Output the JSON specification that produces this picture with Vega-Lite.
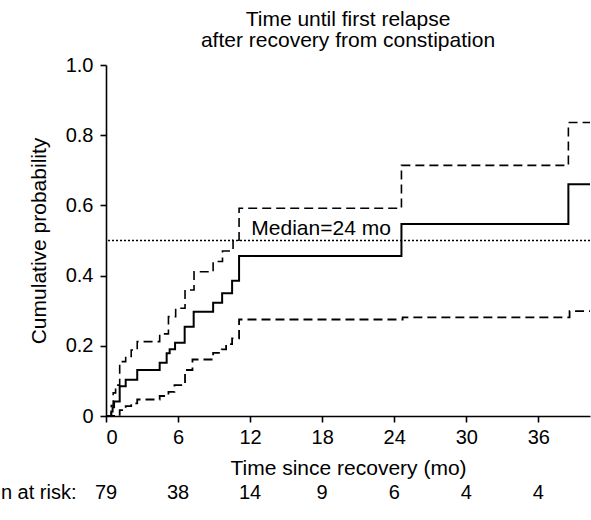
{
  "$schema": "https://vega.github.io/schema/vega-lite/v6.json",
  "width": 484,
  "height": 351,
  "autosize": {"type": "none"},
  "padding": {"left": 106, "top": 65, "right": 1, "bottom": 104},
  "title": {
    "text": ["Time until first relapse", "after recovery from constipation"],
    "font": "Liberation Sans",
    "fontSize": 21,
    "fontWeight": "normal",
    "color": "#000000",
    "lineHeight": 21,
    "anchor": "middle",
    "frame": "group",
    "offset": 4
  },
  "config": {
    "view": {"stroke": null},
    "font": "Liberation Sans",
    "axis": {
      "domainColor": "#000000",
      "domainWidth": 1.6,
      "tickColor": "#000000",
      "tickWidth": 1.6,
      "tickSize": 6,
      "grid": false,
      "labelFont": "Liberation Sans",
      "labelFontSize": 20,
      "labelColor": "#000000",
      "titleFont": "Liberation Sans",
      "titleFontSize": 21,
      "titleFontWeight": "normal",
      "titleColor": "#000000"
    }
  },
  "datasets": {
    "km": [
      {"t": 0, "p": 0, "s": "est"},
      {"t": 0.44, "p": 0.013, "s": "est"},
      {"t": 0.55, "p": 0.025, "s": "est"},
      {"t": 0.67, "p": 0.041, "s": "est"},
      {"t": 1.14, "p": 0.085, "s": "est"},
      {"t": 1.64, "p": 0.103, "s": "est"},
      {"t": 2.6, "p": 0.131, "s": "est"},
      {"t": 4.47, "p": 0.152, "s": "est"},
      {"t": 5.05, "p": 0.179, "s": "est"},
      {"t": 5.3, "p": 0.19, "s": "est"},
      {"t": 5.75, "p": 0.209, "s": "est"},
      {"t": 6.55, "p": 0.254, "s": "est"},
      {"t": 7.3, "p": 0.297, "s": "est"},
      {"t": 8.92, "p": 0.323, "s": "est"},
      {"t": 9.67, "p": 0.35, "s": "est"},
      {"t": 10.5, "p": 0.385, "s": "est"},
      {"t": 11.08, "p": 0.456, "s": "est"},
      {"t": 24.6, "p": 0.547, "s": "est"},
      {"t": 38.5, "p": 0.66, "s": "est"},
      {"t": 40.3, "p": 0.66, "s": "est"},
      {"t": 0, "p": 0, "s": "upper"},
      {"t": 0.44, "p": 0.03, "s": "upper"},
      {"t": 0.6, "p": 0.066, "s": "upper"},
      {"t": 0.8, "p": 0.088, "s": "upper"},
      {"t": 1.14, "p": 0.155, "s": "upper"},
      {"t": 1.64, "p": 0.17, "s": "upper"},
      {"t": 2.1, "p": 0.188, "s": "upper"},
      {"t": 2.6, "p": 0.212, "s": "upper"},
      {"t": 4.47, "p": 0.234, "s": "upper"},
      {"t": 5.2, "p": 0.283, "s": "upper"},
      {"t": 5.8, "p": 0.307, "s": "upper"},
      {"t": 6.58, "p": 0.359, "s": "upper"},
      {"t": 7.33, "p": 0.411, "s": "upper"},
      {"t": 8.92, "p": 0.44, "s": "upper"},
      {"t": 9.7, "p": 0.47, "s": "upper"},
      {"t": 10.58, "p": 0.501, "s": "upper"},
      {"t": 11.08, "p": 0.592, "s": "upper"},
      {"t": 24.6, "p": 0.714, "s": "upper"},
      {"t": 38.5, "p": 0.836, "s": "upper"},
      {"t": 40.3, "p": 0.836, "s": "upper"},
      {"t": 0, "p": 0, "s": "lower"},
      {"t": 1.14, "p": 0.017, "s": "lower"},
      {"t": 1.64, "p": 0.028, "s": "lower"},
      {"t": 2.1, "p": 0.036, "s": "lower"},
      {"t": 2.6, "p": 0.047, "s": "lower"},
      {"t": 4.47, "p": 0.057, "s": "lower"},
      {"t": 5.2, "p": 0.069, "s": "lower"},
      {"t": 5.7, "p": 0.088, "s": "lower"},
      {"t": 6.58, "p": 0.131, "s": "lower"},
      {"t": 7.2, "p": 0.161, "s": "lower"},
      {"t": 8.92, "p": 0.18, "s": "lower"},
      {"t": 9.64, "p": 0.19, "s": "lower"},
      {"t": 10.0, "p": 0.205, "s": "lower"},
      {"t": 10.5, "p": 0.221, "s": "lower"},
      {"t": 11.08, "p": 0.275, "s": "lower"},
      {"t": 24.7, "p": 0.281, "s": "lower"},
      {"t": 38.6, "p": 0.299, "s": "lower"},
      {"t": 40.3, "p": 0.299, "s": "lower"}
    ],
    "risk": [
      {"t": 0, "n": "79"},
      {"t": 6, "n": "38"},
      {"t": 12, "n": "14"},
      {"t": 18, "n": "9"},
      {"t": 24, "n": "6"},
      {"t": 30, "n": "4"},
      {"t": 36, "n": "4"}
    ],
    "risklabel": [{"t": -8.75, "n": "n at risk:"}],
    "median": [{"t": 12.1, "p": 0.5, "label": "Median=24 mo"}]
  },
  "layer": [
    {
      "data": {"name": "km"},
      "mark": {"type": "line", "interpolate": "step-after", "color": "#000000", "clip": false},
      "encoding": {
        "x": {
          "field": "t",
          "type": "quantitative",
          "scale": {"domain": [0, 40.3], "nice": false, "zero": false},
          "axis": {"values": [0, 6, 12, 18, 24, 30, 36], "title": "Time since recovery (mo)", "labelPadding": 5, "titlePadding": 10}
        },
        "y": {
          "field": "p",
          "type": "quantitative",
          "scale": {"domain": [0, 1], "nice": false},
          "axis": {"values": [0, 0.2, 0.4, 0.6, 0.8, 1.0], "labelExpr": "datum.value == 0 ? '0' : format(datum.value, '.1f')", "title": "Cumulative probability", "labelPadding": 7, "titlePadding": 16}
        },
        "detail": {"field": "s"},
        "strokeDash": {
          "field": "s",
          "type": "nominal",
          "scale": {"domain": ["est", "lower", "upper"], "range": [[1, 0], [9, 5], [9, 5]]},
          "legend": null
        },
        "strokeWidth": {
          "field": "s",
          "type": "nominal",
          "scale": {"domain": ["est", "lower", "upper"], "range": [2, 1.6, 1.6]},
          "legend": null
        }
      }
    },
    {
      "data": {"values": [{}]},
      "mark": {"type": "rule", "color": "#000000", "strokeDash": [2, 2], "strokeWidth": 1.4},
      "encoding": {"y": {"datum": 0.5}}
    },
    {
      "data": {"name": "median"},
      "mark": {"type": "text", "align": "left", "baseline": "alphabetic", "dy": -6, "fontSize": 21, "font": "Liberation Sans", "color": "#000000"},
      "encoding": {
        "x": {"field": "t", "type": "quantitative"},
        "y": {"field": "p", "type": "quantitative"},
        "text": {"field": "label"}
      }
    },
    {
      "data": {"name": "risk"},
      "mark": {"type": "text", "align": "center", "baseline": "middle", "fontSize": 20, "font": "Liberation Sans", "color": "#000000"},
      "encoding": {
        "x": {"field": "t", "type": "quantitative"},
        "y": {"datum": -0.22},
        "text": {"field": "n"}
      }
    },
    {
      "data": {"name": "risklabel"},
      "mark": {"type": "text", "align": "left", "baseline": "middle", "fontSize": 20, "font": "Liberation Sans", "color": "#000000"},
      "encoding": {
        "x": {"field": "t", "type": "quantitative"},
        "y": {"datum": -0.22},
        "text": {"field": "n"}
      }
    }
  ]
}
